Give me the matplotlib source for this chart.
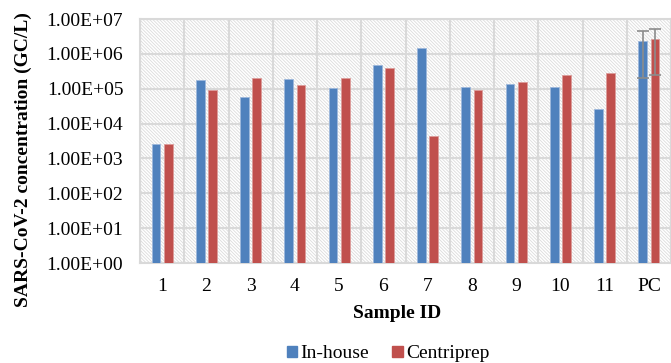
import numpy
from matplotlib import pyplot
from matplotlib import patches
from matplotlib import ticker

pyplot.rcParams['font.family'] = ['Liberation Serif', 'DejaVu Serif']
pyplot.rcParams['hatch.linewidth'] = 0.6
pyplot.rcParams['hatch.color'] = '#dcdcdc'

samples = ['1', '2', '3', '4', '5', '6', '7', '8', '9', '10', '11', 'PC']
in_house = [2.6e3, 1.78e5, 5.7e4, 1.94e5, 1.07e5, 4.9e5, 1.5e6, 1.14e5, 1.36e5, 1.14e5, 2.57e4, 2.4e6]
centriprep = [2.6e3, 9.4e4, 2.08e5, 1.28e5, 2.08e5, 3.85e5, 4.5e3, 9.4e4, 1.52e5, 2.5e5, 2.8e5, 2.7e6]
in_house_err = [0, 0, 0, 0, 0, 0, 0, 0, 0, 0, 0, 2.2e6]
centriprep_err = [0, 0, 0, 0, 0, 0, 0, 0, 0, 0, 0, 2.45e6]

blue = '#4F81BD'
red = '#C0504D'
grid_color = '#d9d9d9'

fig = pyplot.figure(figsize=(6.71, 3.63), dpi=100)
ax = fig.add_axes([140 / 671, 1 - 263 / 363, 531 / 671, 244 / 363])

# hatched background like the Excel plot area
ax.patch.set_facecolor('white')
ax.add_patch(patches.Rectangle((0, 0), 1, 1, transform=ax.transAxes,
                               facecolor='white', edgecolor='#dcdcdc',
                               hatch='\\' * 10, linewidth=0, zorder=0))

x = numpy.arange(len(samples))
width = 0.2
offset = 0.14

ax.bar(x - offset, in_house, width, color=blue, edgecolor='#9db8dc', linewidth=0.6, zorder=3)
ax.bar(x + offset, centriprep, width, color=red, edgecolor='#dc9c9a', linewidth=0.6, zorder=3)

pc = len(samples) - 1
ax.errorbar([pc - offset, pc + offset], [in_house[pc], centriprep[pc]],
            yerr=[in_house_err[pc], centriprep_err[pc]], fmt='none',
            ecolor='#8c8c8c', elinewidth=1.2, capsize=4, capthick=1.2, zorder=4)

ax.set_yscale('log')
ax.set_ylim(1, 1e7)
ax.set_xlim(-0.5, len(samples) - 0.5)
ax.yaxis.set_major_locator(ticker.LogLocator(base=10, numticks=10))
ax.yaxis.set_minor_locator(ticker.NullLocator())
ax.yaxis.set_major_formatter(ticker.FuncFormatter(
    lambda v, pos: '1.00E+{:02d}'.format(int(round(numpy.log10(v))))))

ax.set_xticks(x)
ax.set_xticklabels(samples)
ax.set_xticks(numpy.arange(len(samples) + 1) - 0.5, minor=True)
ax.tick_params(axis='both', which='both', length=0, labelsize=14, colors='black')
ax.tick_params(axis='y', pad=12)
ax.tick_params(axis='x', pad=11)

ax.grid(True, axis='y', which='major', color=grid_color, linewidth=1.5, zorder=1)
ax.grid(True, axis='x', which='minor', color=grid_color, linewidth=1.5, zorder=1)
ax.grid(False, axis='x', which='major')
ax.set_axisbelow(True)

for side in ['top', 'bottom', 'left', 'right']:
    ax.spines[side].set_color(grid_color)
    ax.spines[side].set_linewidth(1.5)

fig.text(23 / 671, 1 - 160 / 363, 'SARS-CoV-2 concentration (GC/L)', rotation=90,
         ha='center', va='center', fontsize=14, fontweight='bold')
fig.text(397 / 671, 1 - 314 / 363, 'Sample ID', ha='center', va='center',
         fontsize=14, fontweight='bold')

handles = [patches.Patch(color=blue, label='In-house'),
           patches.Patch(color=red, label='Centriprep')]
fig.legend(handles=handles, loc='center', bbox_to_anchor=(388 / 671, 1 - 354 / 363),
           ncol=2, frameon=False, fontsize=14, handlelength=0.55, handleheight=0.55,
           handletextpad=0.15, columnspacing=1.2, borderaxespad=0)

pyplot.savefig('out.png', dpi=100)
